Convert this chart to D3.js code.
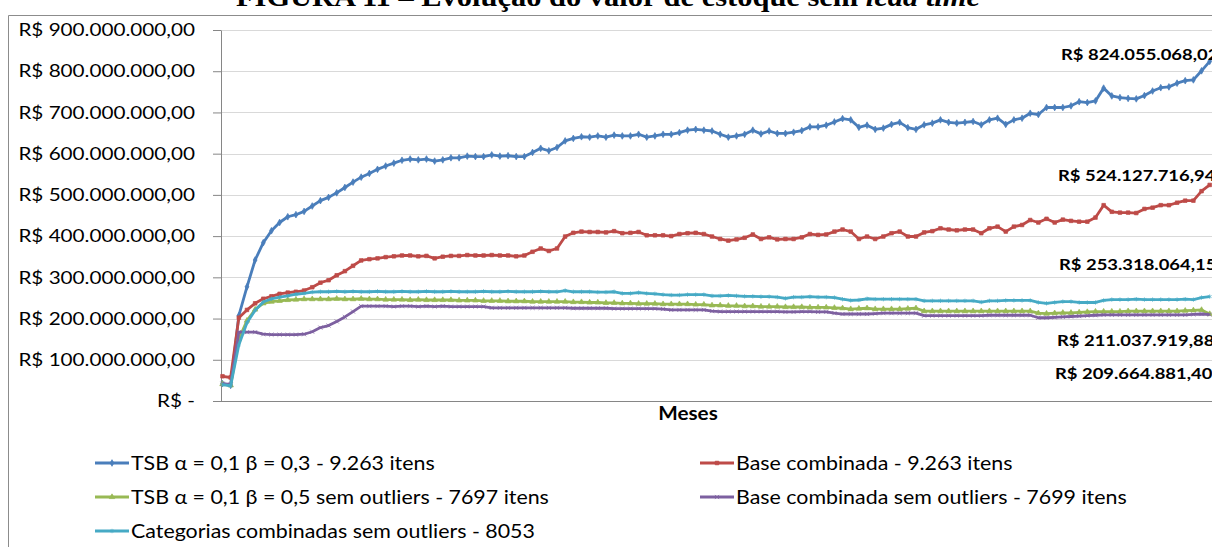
<!DOCTYPE html>
<html>
<head>
<meta charset="utf-8">
<script src="https://cdn.jsdelivr.net/npm/d3@7"></script>
<style>
  html, body { margin: 0; padding: 0; background: #fff; overflow: hidden; }
  svg { display: block; }
</style>
</head>
<body>
<svg id="chart" width="1212" height="547"></svg>
<script>
// Monthly stock value (R$ millions) for five forecasting scenarios.
const meses = d3.range(1, 123);

const tsbBeta03 = [
  42,38,207,277,342,384,413,433,447,452,
  460,473,486,494,505,518,531,543,552,562,
  570,577,584,587,585,587,582,585,590,590,
  594,593,593,597,594,595,593,593,603,613,
  607,615,631,637,641,640,643,640,645,643,
  643,647,640,643,647,647,651,657,659,657,
  655,647,640,643,647,657,648,655,649,649,
  652,656,665,665,669,677,685,682,664,669,
  659,662,671,676,663,659,670,674,682,676,
  674,676,678,670,682,686,671,682,686,698,
  695,712,712,712,716,726,724,728,759,740,
  736,734,733,741,752,760,762,771,777,779,
  801,824.05506802
];

const baseCombinada = [
  60,57,202,221,237,248,254,260,263,265,
  268,276,287,293,305,315,328,341,344,346,
  349,351,353,353,351,352,346,350,352,352,
  354,353,353,354,353,353,351,353,362,370,
  364,370,399,408,411,410,410,409,412,407,
  408,410,402,402,402,400,405,407,408,405,
  399,393,389,392,396,404,393,397,392,393,
  393,397,405,403,404,411,416,411,393,399,
  393,399,407,411,399,399,409,412,419,416,
  414,416,416,407,419,423,411,423,427,439,
  433,442,433,440,437,435,435,445,475,459,
  457,457,456,466,469,475,475,481,486,486,
  509,524.12771694
];

const tsbBeta05SemOutliers = [
  41,38,150,195,222,237,241,243,245,246,
  247,247,247,247,248,247,247,248,247,247,
  246,246,246,245,246,245,245,245,245,244,
  244,244,243,243,243,242,242,242,241,241,
  241,241,241,240,240,239,239,238,238,237,
  237,236,236,236,235,235,235,235,234,234,
  232,232,231,231,230,230,229,229,229,228,
  228,228,227,227,227,226,225,223,224,225,
  223,223,223,223,224,225,218,218,218,218,
  218,218,218,218,218,218,218,218,218,218,
  213,212,213,214,214,215,216,217,217,217,
  217,218,218,218,218,218,218,218,219,220,
  221,211.03791988
];

const baseCombinadaSemOutliers = [
  42,40,167,167,167,162,161,161,161,161,
  162,168,178,183,193,204,217,230,230,230,
  230,229,230,230,229,230,229,230,229,229,
  229,229,229,226,226,226,226,226,226,226,
  226,226,226,225,225,225,225,225,224,224,
  224,224,224,224,223,221,221,221,221,221,
  218,217,217,217,217,217,217,217,217,216,
  216,217,217,216,216,213,211,211,211,211,
  212,213,213,213,213,213,207,207,207,207,
  207,207,207,207,208,208,208,208,208,208,
  202,202,203,204,205,206,207,208,209,209,
  209,209,209,209,209,209,209,209,209,210,
  211,209.6648814
];

const categoriasSemOutliers = [
  40,37,136,190,220,240,248,252,255,259,
  261,264,265,265,266,265,266,265,265,266,
  265,265,266,265,265,266,265,265,266,265,
  265,265,266,265,265,266,265,265,265,266,
  265,265,268,265,265,265,264,264,265,261,
  261,263,261,260,258,257,257,258,258,258,
  255,255,256,255,254,254,253,253,252,249,
  252,252,253,252,252,251,247,244,245,248,
  247,247,247,247,247,247,243,243,243,243,
  243,243,243,240,243,243,244,244,244,244,
  239,237,239,241,241,239,239,239,244,246,
  246,246,247,246,246,246,246,246,247,246,
  251,253.31806415
];

const seriesNames = [
  "TSB α = 0,1 β = 0,3 - 9.263 itens",
  "Base combinada - 9.263 itens",
  "TSB α = 0,1 β = 0,5 sem outliers - 7697 itens",
  "Base combinada sem outliers - 7699 itens",
  "Categorias combinadas sem outliers - 8053"
];

const yTickValues = [0, 100, 200, 300, 400, 500, 600, 700, 800, 900];
const yTickLabels = [
  "R$ -", "R$ 100.000.000,00", "R$ 200.000.000,00", "R$ 300.000.000,00",
  "R$ 400.000.000,00", "R$ 500.000.000,00", "R$ 600.000.000,00",
  "R$ 700.000.000,00", "R$ 800.000.000,00", "R$ 900.000.000,00"
];

// ---- drawing ----
const W = 1212;
const SX = 1.15;                       // horizontal stretch applied to all text
const uiFont = "Lato, 'Noto Sans', sans-serif";
const colors = ["#4a7ebb", "#be4b48", "#98b954", "#7d60a0", "#46aac5"];
const symbols = [
  d3.symbolDiamond, d3.symbolSquare, d3.symbolTriangle,
  d3.symbolTimes || d3.symbolCross, d3.symbolAsterisk || d3.symbolStar
];

const brl = d3.formatLocale({
  decimal: ",", thousands: ".", grouping: [3], currency: ["R$ ", ""]
}).format("$,.2f");

const series = [tsbBeta03, baseCombinada, tsbBeta05SemOutliers, baseCombinadaSemOutliers, categoriasSemOutliers]
  .map((values, k) => ({ name: seriesNames[k], values, color: colors[k], symbol: symbols[k] }));

const svg = d3.select("#chart");

const x = d3.scaleLinear().domain([0, meses.length - 1]).range([222.5, 1209.7]);
const y = d3.scaleLinear().domain([0, 900]).range([401, 30]);

// outer chart frame
svg.append("path")
  .attr("d", "M8.5,547V15.5H1212")
  .attr("fill", "none").attr("stroke", "#8c8c8c").attr("stroke-width", 1);

// figure caption above the frame
const title = svg.append("text")
  .attr("transform", `translate(608,6) scale(${SX},1)`)
  .attr("text-anchor", "middle")
  .attr("font-family", "'Liberation Serif', 'Times New Roman', serif")
  .attr("font-weight", "bold")
  .attr("font-size", 26.5)
  .attr("fill", "#000");
title.append("tspan").text("FIGURA 11 – Evolução do valor de estoque sem ");
title.append("tspan").attr("font-style", "italic").text("lead time");

// horizontal gridlines
svg.append("g").selectAll("line")
  .data(yTickValues.slice(1))
  .join("line")
  .attr("x1", 221).attr("x2", W)
  .attr("y1", d => Math.round(y(d)) + 0.5).attr("y2", d => Math.round(y(d)) + 0.5)
  .attr("stroke", "#d9d9d9").attr("stroke-width", 1);

// value axis
const yAxis = d3.axisLeft(y)
  .tickValues(yTickValues)
  .tickSize(8).tickSizeOuter(0)
  .tickFormat((d, i) => yTickLabels[i]);
const gy = svg.append("g").attr("transform", "translate(221,0)").call(yAxis);
gy.select(".domain").attr("stroke", "#868686");
gy.selectAll(".tick line").attr("stroke", "#868686");
gy.selectAll(".tick text")
  .attr("x", -26 / SX)
  .attr("transform", `scale(${SX},1)`)
  .attr("font-family", uiFont)
  .attr("font-size", 18)
  .attr("fill", "#000");

// category axis line
svg.append("line")
  .attr("x1", 221).attr("x2", W)
  .attr("y1", Math.round(y(0)) + 0.5).attr("y2", Math.round(y(0)) + 0.5)
  .attr("stroke", "#868686");

svg.append("text")
  .attr("transform", `translate(688,413) scale(${SX},1)`)
  .attr("text-anchor", "middle").attr("dominant-baseline", "central")
  .attr("font-family", uiFont).attr("font-weight", "bold").attr("font-size", 18)
  .attr("fill", "#000")
  .text("Meses");

// series lines and markers
const line = d3.line().x((d, i) => x(i)).y(d => y(d));
const plot = svg.append("g");
series.forEach(s => {
  plot.append("path")
    .datum(s.values)
    .attr("d", line)
    .attr("fill", "none")
    .attr("stroke", s.color)
    .attr("stroke-width", 2.8)
    .attr("stroke-linejoin", "round");
  plot.append("g").selectAll("path")
    .data(s.values)
    .join("path")
    .attr("transform", (d, i) => `translate(${x(i)},${y(d)})`)
    .attr("d", d3.symbol(s.symbol, 13))
    .attr("fill", s.color)
    .attr("stroke", s.color)
    .attr("stroke-opacity", 0.7)
    .attr("stroke-width", 1);
});

// end-of-series value labels
const labelPos = [[1061, 54], [1058, 175], [1057, 340], [1055, 373], [1059, 264]];
series.forEach((s, k) => {
  const last = s.values[s.values.length - 1];
  svg.append("text")
    .attr("transform", `translate(${labelPos[k][0]},${labelPos[k][1]}) scale(${SX},1)`)
    .attr("dominant-baseline", "central")
    .attr("font-family", uiFont).attr("font-weight", "bold").attr("font-size", 16)
    .attr("fill", "#000")
    .text(brl(last * 1e6));
});

// legend
const legendPos = [[95, 463], [700, 463], [95, 497], [700, 497], [95, 531]];
const legend = svg.append("g");
series.forEach((s, k) => {
  const [lx, ly] = legendPos[k];
  const g = legend.append("g").attr("transform", `translate(${lx},${ly})`);
  g.append("line").attr("x1", 0).attr("x2", 34).attr("y1", 0).attr("y2", 0)
    .attr("stroke", s.color).attr("stroke-width", 2.8);
  g.append("path").attr("transform", "translate(17,0)")
    .attr("d", d3.symbol(s.symbol, 13))
    .attr("fill", s.color).attr("stroke", s.color).attr("stroke-opacity", 0.7);
  g.append("text")
    .attr("transform", `translate(36,0) scale(${SX},1)`)
    .attr("dominant-baseline", "central")
    .attr("font-family", uiFont).attr("font-size", 18.6)
    .attr("fill", "#000")
    .text(s.name);
});
</script>
</body>
</html>
